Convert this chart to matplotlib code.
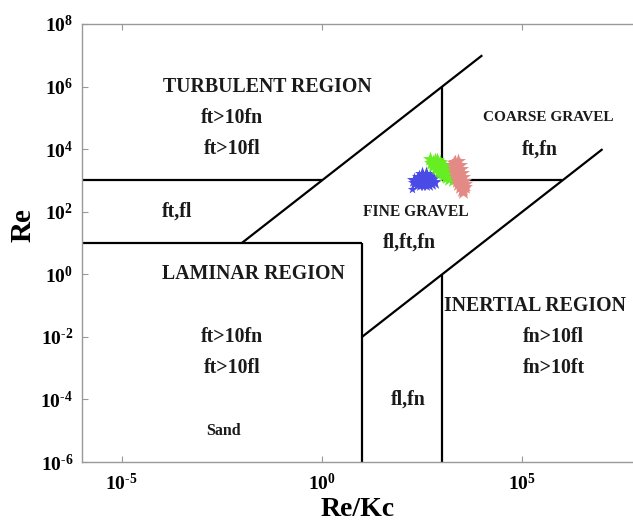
import numpy as np
import matplotlib
matplotlib.use("Agg")
import matplotlib.pyplot as plt

plt.rcParams['font.family'] = ['Liberation Serif', 'DejaVu Serif']
plt.rcParams['font.weight'] = 'bold'
plt.rcParams['mathtext.fontset'] = 'custom'
plt.rcParams['mathtext.rm'] = 'Liberation Serif:bold'
plt.rcParams['mathtext.it'] = 'Liberation Serif:bold'
plt.rcParams['mathtext.bf'] = 'Liberation Serif:bold'

# region boundaries, (Re/Kc, Re) pairs, one list per segment
boundaries = [
    ([1e-6, 1], [1e3, 1e3]),          # turbulent / transition top-left
    ([1e3, 1e6], [1e3, 1e3]),         # coarse gravel base
    ([1e-6, 10], [10, 10]),           # laminar top
    ([10, 10], [10, 1e-6]),           # laminar right side
    ([1e-2, 1e4], [10, 1e7]),         # upper diagonal Re = 1000 Re/Kc
    ([10, 1e7], [1e-2, 1e4]),         # lower diagonal Re = Re/Kc / 1000
    ([1e3, 1e3], [1e6, 1e3]),         # split above
    ([1e3, 1e3], [1, 1e-6]),          # split below
]

# measured points, log10 values
blue_logx = [2.33, 2.40, 2.48, 2.56, 2.64, 2.72, 2.80, 2.36, 2.45, 2.55, 2.65, 2.75,
             2.42, 2.52, 2.62, 2.70, 2.50, 2.60, 2.30, 2.78]
blue_logy = [2.92, 2.90, 2.88, 2.88, 2.90, 2.92, 2.95, 3.02, 3.02, 3.03, 3.03, 3.05,
             3.10, 3.12, 3.12, 3.12, 3.20, 3.22, 3.00, 3.08]
star_logx = [2.25]
star_logy = [2.73]
green_logx = [2.70, 2.77, 2.85, 2.92, 2.99, 3.06, 3.14, 3.21, 3.28,
              2.82, 2.90, 2.97, 3.04, 3.11, 3.19, 3.26,
              2.72, 2.80, 2.87, 2.94, 3.01, 3.09, 3.16,
              2.86, 2.94, 3.01, 3.08, 3.15, 3.22,
              2.76, 2.84, 2.91, 2.98, 3.05, 3.12]
green_logy = [3.68, 3.60, 3.52, 3.43, 3.35, 3.27, 3.19, 3.10, 3.02,
              3.64, 3.56, 3.47, 3.39, 3.31, 3.23, 3.14,
              3.56, 3.48, 3.39, 3.31, 3.23, 3.15, 3.06,
              3.66, 3.58, 3.50, 3.42, 3.34, 3.25,
              3.50, 3.42, 3.34, 3.26, 3.18, 3.10]
pink_logx = [3.33, 3.36, 3.38, 3.41, 3.43, 3.46, 3.48, 3.51, 3.53,
             3.27, 3.29, 3.32, 3.34, 3.37, 3.40,
             3.45, 3.47, 3.50, 3.52, 3.55, 3.57,
             3.30, 3.40, 3.44, 3.49, 3.56]
pink_logy = [3.60, 3.48, 3.36, 3.23, 3.11, 2.99, 2.87, 2.74, 2.62,
             3.48, 3.36, 3.23, 3.11, 2.99, 2.87,
             3.48, 3.36, 3.23, 3.11, 2.99, 2.87,
             3.57, 3.62, 2.78, 2.68, 2.80]

# (label, log x, log y, size)
labels = [
    ("TURBULENT REGION", -1.37, 6.0, 14.3),
    ("ft>10fn", -2.24, 5.0, 14.3),
    ("ft>10fl", -2.24, 4.0, 14.3),
    ("ft,fl", -3.62, 2.0, 14.3),
    ("LAMINAR REGION", -1.70, 0.0, 14.3),
    ("ft>10fn", -2.24, -2.0, 14.3),
    ("ft>10fl", -2.24, -3.0, 14.3),
    ("Sand", -2.47, -5.0, 11.5),
    ("FINE GRAVEL", 2.33, 2.0, 11.2),
    ("fl,ft,fn", 2.18, 1.0, 14.3),
    ("COARSE GRAVEL", 5.64, 5.0, 11.0),
    ("ft,fn", 5.44, 4.0, 14.3),
    ("INERTIAL REGION", 5.31, -1.0, 14.3),
    ("fn>10fl", 5.78, -2.0, 14.3),
    ("fn>10ft", 5.78, -3.0, 14.3),
    ("fl,fn", 2.15, -4.0, 14.3),
]

xticks = [1e-5, 1e0, 1e5]
xticklabels = [r"$10^{\text{-}5}$", r"$10^{0}$", r"$10^{5}$"]
yticks = [1e-6, 1e-4, 1e-2, 1e0, 1e2, 1e4, 1e6, 1e8]
yticklabels = [r"$10^{\text{-}6}$", r"$10^{\text{-}4}$", r"$10^{\text{-}2}$", r"$10^{0}$",
               r"$10^{2}$", r"$10^{4}$", r"$10^{6}$", r"$10^{8}$"]

fig = plt.figure(figsize=(6.33, 5.24), dpi=100)
ax = fig.add_axes([0.1288, 0.1183, 0.8712, 0.836])
ax.set_xscale('log')
ax.set_yscale('log')
ax.set_xlim(1e-6, 10**7.76)
ax.set_ylim(1e-6, 1e8)

for xs, ys in boundaries:
    ax.plot(xs, ys, color='black', lw=1.6, solid_capstyle='butt', zorder=2)

ax.scatter(10**np.array(blue_logx), 10**np.array(blue_logy), marker='*', s=130,
           color='#4a4ae6', linewidths=0, zorder=3)
ax.scatter(10**np.array(star_logx), 10**np.array(star_logy), marker='*', s=50,
           color='#4a4ae6', linewidths=0, zorder=3)
ax.scatter(10**np.array(green_logx), 10**np.array(green_logy), marker='*', s=130,
           color='#66ee22', linewidths=0, zorder=4)
ax.scatter(10**np.array(pink_logx), 10**np.array(pink_logy), marker='*', s=130,
           color='#e38a86', linewidths=0, zorder=5)

for txt, lx, ly, fs in labels:
    ax.text(10**lx, 10**ly, txt, ha='center', va='center', fontsize=fs,
            fontweight='bold', color='#1a1a1a')

ax.set_xticks(xticks)
ax.set_xticklabels(xticklabels, fontsize=14)
ax.set_yticks(yticks)
ax.set_yticklabels(yticklabels, fontsize=14)
ax.minorticks_off()
ax.tick_params(direction='in', length=4, width=0.8, color='#999999',
               top=True, right=False, pad=6)
ax.tick_params(axis='x', pad=8)

for side in ['left', 'bottom', 'top']:
    ax.spines[side].set_color('#999999')
    ax.spines[side].set_linewidth(1.0)
ax.spines['right'].set_visible(False)

ax.set_xlabel("Re/Kc", fontsize=20, fontweight='bold', labelpad=2)
ax.set_ylabel("Re", fontsize=21, fontweight='bold')
ax.yaxis.set_label_coords(-0.082, 0.54)

fig.savefig("out.png", dpi=100)
